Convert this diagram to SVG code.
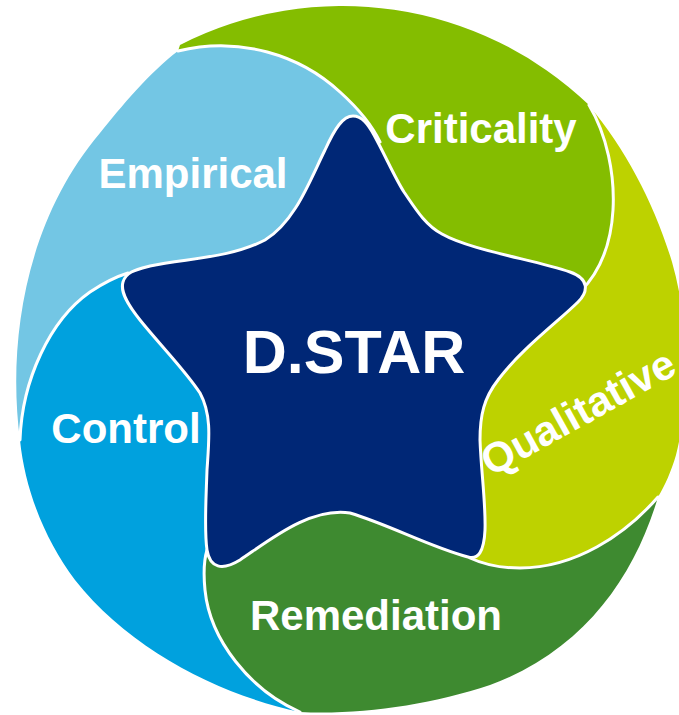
<svg xmlns="http://www.w3.org/2000/svg" width="679" height="715" viewBox="0 0 679 715">
<style>
.lbl{font-family:"Liberation Sans",Arial,sans-serif;font-weight:bold;fill:#fff;font-size:42px;text-anchor:middle}
.border{fill:none;stroke:#fff;stroke-width:3;stroke-linecap:round}
</style>
<rect width="679" height="715" fill="#fff"/>
<g id="criticality">
<path fill="#84BD00" d="M180,45 A357,357 0 0 1 589,105 C607,135 615,175 613,210 C611,245 600,272 580,292 L345,340 L380,142 C372,125 360,110 340,92 C300,55 240,36 178,51 Z"/>
<text class="lbl" x="481" y="143">Criticality</text>
</g>
<g id="qualitative">
<path fill="#BDD200" d="M590,107 C625,148 655,205 672,262 C690,325 690,400 676,455 C671,472 665,485 658,497 C625,535 575,568 520,568 C500,568 485,565 470,558 L345,340 L580,292 C600,272 611,245 613,210 C615,175 607,135 589,105 Z"/>
<text class="lbl" transform="translate(585,425) rotate(-29)" x="0" y="0">Qualitative</text>
</g>
<g id="remediation">
<path fill="#3E8A30" d="M658,497 C635,575 585,650 490,685 C430,705 360,715 300,712 C250,690 210,640 205,590 C203,570 204,560 207,550 L345,340 L470,558 C485,565 500,568 520,568 C575,568 625,535 658,497 Z"/>
<text class="lbl" x="376" y="630">Remediation</text>
</g>
<g id="control">
<path fill="#00A1DE" d="M300,712 C220,695 130,650 75,580 C45,540 25,490 20,440 C22,380 50,320 90,292 C105,282 115,277 128,273 L345,340 L207,550 C204,560 203,570 205,590 C210,640 250,690 300,712 Z"/>
<text class="lbl" x="126" y="443">Control</text>
</g>
<g id="empirical">
<path fill="#73C6E4" d="M20,440 C8,350 22,225 100,133 C120,108 150,72 178,51 C240,36 300,55 340,92 C360,110 372,125 380,142 L345,340 L128,273 C115,277 105,282 90,292 C50,320 22,380 20,440 Z"/>
<text class="lbl" x="193" y="188">Empirical</text>
</g>
<g id="borders">
<path class="border" d="M178,51 C240,36 300,55 340,92 C360,110 372,125 380,142"/>
<path class="border" d="M589,105 C607,135 615,175 613,210 C611,245 600,272 580,292"/>
<path class="border" d="M658,497 C625,535 575,568 520,568 C500,568 485,565 470,558"/>
<path class="border" d="M300,712 C250,690 210,640 205,590 C203,570 204,560 207,550"/>
<path class="border" d="M20,440 C22,380 50,320 90,292 C105,282 115,277 128,273"/>
</g>
<g id="dstar">
<path fill="#002776" stroke="#fff" stroke-width="3" stroke-linejoin="round" d="M353,116 C362,116 368,124 374,135 C385,155 395,178 404,192 C415,208 425,225 442,234 C470,250 535,260 570,272 C590,279 588,292 578,302 C560,320 520,350 498,380 C484,398 480,415 480,440 C481,470 486,505 485,530 C484,552 478,560 468,557 C430,547 390,525 350,513 C310,507 270,540 240,560 C222,571 210,568 207,550 C204,530 206,500 207,470 C209,440 212,415 200,393 C185,370 160,345 140,320 C128,305 120,292 123,282 C126,272 135,270 150,266 C190,258 230,258 265,240 C295,222 310,180 325,150 C335,128 343,116 353,116 Z"/>
<text class="lbl" x="354" y="373" style="font-size:61px">D.STAR</text>
</g>
</svg>
